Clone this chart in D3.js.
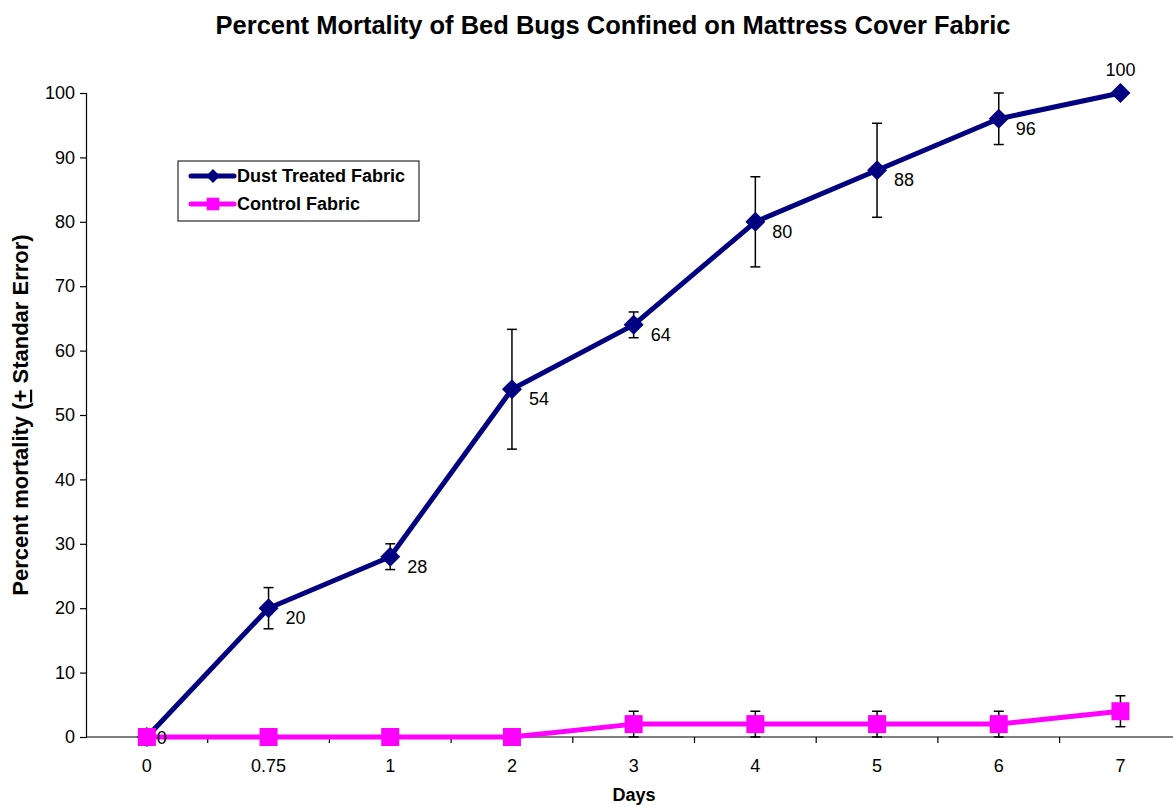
<!DOCTYPE html>
<html>
<head>
<meta charset="utf-8">
<script src="https://cdn.jsdelivr.net/npm/d3@7"></script>
<style>
	body { margin: 0; background: #fff; }
	text { font-family: 'Liberation Sans', Arial, sans-serif; }
</style>
</head>
<body>
<script>
// Chart data
const days = ['0', '0.75', '1', '2', '3', '4', '5', '6', '7']
const dustValues = [0, 20, 28, 54, 64, 80, 88, 96, 100]
const dustErrors = [0, 3.2, 2, 9.3, 2, 7, 7.3, 4, 0]
const controlValues = [0, 0, 0, 0, 2, 2, 2, 2, 4]
const controlErrors = [0, 0, 0, 0, 2, 2, 2, 2, 2.4]
const yTicks = [0, 10, 20, 30, 40, 50, 60, 70, 80, 90, 100]

const width = 1173, height = 806
const margin = {left: 86, top: 93, bottom: 69}
const bandW = 121.7

const svg = d3.select('body').append('svg')
	.attr('width', width).attr('height', height)

const x = d3.scaleBand()
	.domain(days)
	.range([margin.left, margin.left + bandW*days.length])

const y = d3.scaleLinear()
	.domain([0, 100])
	.range([height - margin.bottom, margin.top])

const cx = d => x(d) + x.bandwidth()/2

// Title
svg.append('text')
	.attr('x', 613).attr('y', 34)
	.attr('text-anchor', 'middle')
	.style('font-size', '25.5px').style('font-weight', 'bold')
	.text('Percent Mortality of Bed Bugs Confined on Mattress Cover Fabric')

// Y axis
const yAxis = svg.append('g')
	.attr('transform', `translate(${margin.left},0)`)
	.call(d3.axisLeft(y).tickValues(yTicks).tickSize(6).tickPadding(5))
yAxis.selectAll('text').style('font-size', '18px').attr('fill', '#000')
yAxis.selectAll('line, path').attr('stroke', '#000').attr('stroke-width', 1.2)

// X axis: ticks sit between categories
const xAxis = svg.append('g')
	.attr('transform', `translate(0,${y(0)})`)
xAxis.append('line')
	.attr('x1', margin.left).attr('x2', width)
	.attr('stroke', '#000').attr('stroke-width', 1.2)
xAxis.selectAll('.tick')
	.data(days.slice(1))
	.join('line')
	.attr('x1', d => x(d)).attr('x2', d => x(d))
	.attr('y1', 0).attr('y2', 6)
	.attr('stroke', '#000').attr('stroke-width', 1.2)
xAxis.selectAll('.lab')
	.data(days)
	.join('text')
	.attr('x', d => cx(d)).attr('y', 35)
	.attr('text-anchor', 'middle')
	.style('font-size', '18px')
	.text(d => d)

// Axis titles
svg.append('text')
	.attr('x', 634).attr('y', 801)
	.attr('text-anchor', 'middle')
	.style('font-size', '18px').style('font-weight', 'bold')
	.text('Days')

const yLab = svg.append('text')
	.attr('transform', `translate(28,${(margin.top + y(0))/2}) rotate(-90)`)
	.attr('text-anchor', 'middle')
	.style('font-size', '22px').style('font-weight', 'bold')
yLab.append('tspan').text('Percent mortality (')
yLab.append('tspan').style('text-decoration', 'underline').text('+')
yLab.append('tspan').text(' Standar Error)')

// Series
const series = [
	{name: 'Dust Treated Fabric', values: dustValues, errors: dustErrors, color: '#000080', marker: 'diamond'},
	{name: 'Control Fabric', values: controlValues, errors: controlErrors, color: '#FF00FF', marker: 'square'}
]

const line = d3.line()
	.x((d, i) => cx(days[i]))
	.y(d => y(d))

function drawMarker(g, type, color) {
	if (type == 'diamond') {
		g.append('path')
			.attr('d', 'M0,-10L10,0L0,10L-10,0Z')
			.attr('fill', color)
	} else {
		g.append('rect')
			.attr('x', -9).attr('y', -9)
			.attr('width', 18).attr('height', 18)
			.attr('fill', color)
	}
}

series.forEach(s => {
	const g = svg.append('g')

	// Error bars
	s.values.forEach((v, i) => {
		const e = s.errors[i]
		if (!e) return
		const px = cx(days[i])
		const eb = g.append('g').attr('stroke', '#000').attr('stroke-width', 1.5)
		eb.append('line').attr('x1', px).attr('x2', px).attr('y1', y(v - e)).attr('y2', y(v + e))
		eb.append('line').attr('x1', px - 5).attr('x2', px + 5).attr('y1', y(v - e)).attr('y2', y(v - e))
		eb.append('line').attr('x1', px - 5).attr('x2', px + 5).attr('y1', y(v + e)).attr('y2', y(v + e))
	})

	g.append('path')
		.datum(s.values)
		.attr('d', line)
		.attr('fill', 'none')
		.attr('stroke', s.color).attr('stroke-width', 5)
		.attr('stroke-linejoin', 'round')

	s.values.forEach((v, i) => {
		const m = g.append('g').attr('transform', `translate(${cx(days[i])},${y(v)})`)
		drawMarker(m, s.marker, s.color)
	})
})

// Data labels for dust series
svg.append('g').selectAll('text')
	.data(dustValues)
	.join('text')
	.attr('x', (d, i) => i == days.length - 1 ? cx(days[i]) : cx(days[i]) + (i == 0 ? 10 : 17))
	.attr('y', (d, i) => i == days.length - 1 ? y(d) - 17 : y(d) + (i == 0 ? 7 : 16))
	.attr('text-anchor', (d, i) => i == days.length - 1 ? 'middle' : 'start')
	.style('font-size', '18px')
	.text(d => d)

// Legend
const legend = svg.append('g').attr('transform', 'translate(178,161)')
legend.append('rect')
	.attr('width', 241).attr('height', 60)
	.attr('fill', '#fff').attr('stroke', '#000').attr('stroke-width', 1)
series.forEach((s, i) => {
	const ly = 15 + i*28
	legend.append('line')
		.attr('x1', 13).attr('x2', 56).attr('y1', ly).attr('y2', ly)
		.attr('stroke', s.color).attr('stroke-width', 5).attr('stroke-linecap', 'round')
	const m = legend.append('g').attr('transform', `translate(35,${ly}) scale(0.7)`)
	drawMarker(m, s.marker, s.color)
	legend.append('text')
		.attr('x', 59).attr('y', ly + 6)
		.style('font-size', '18px').style('font-weight', 'bold')
		.text(s.name)
})
</script>
</body>
</html>
